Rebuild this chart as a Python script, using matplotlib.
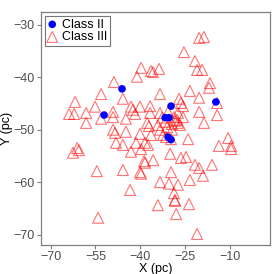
import matplotlib
matplotlib.use("Agg")
import matplotlib.pyplot as plt

plt.rcParams['font.family'] = ['Liberation Sans', 'DejaVu Sans']

# Class III sources (open triangles)
c3_x = [-20.3, -18.7, -25.4, -21.7, -21.0, -19.3, -39.7, -36.4, -35.7, -33.7,
        -41.1, -48.8, -16.7, -17.0, -23.4, -33.4, -53.1, -20.3, -45.8, -27.0,
        -26.4, -25.7, -61.8, -55.1, -43.1, -40.1, -36.7, -36.7, -58.1, -49.1,
        -63.8, -62.1, -49.1, -53.1, -44.8, -42.4, -41.7, -20.3, -14.3, -32.7,
        -28.7, -27.7, -37.7, -37.1, -18.7, -58.1, -49.1, -48.4, -44.8, -31.0,
        -29.4, -27.4, -31.7, -40.1, -36.4, -33.4, -32.4, -31.4, -24.0, -41.4,
        -38.4, -37.4, -45.8, -48.1, -61.1, -60.5, -62.5, -43.1, -30.0, -26.4,
        -24.7, -38.7, -38.4, -35.7, -21.7, -20.3, -16.0, -45.8, -54.5, -40.1,
        -39.7, -29.7, -33.4, -27.4, -23.4, -19.0, -43.4, -28.7, -28.4, -28.4,
        -34.1, -23.7, -28.0, -54.1, -21.0, -13.7, -10.6, -9.6, -9.6, -29.7,
        -39.7, -30.4, -33.4, -30.7, -27.4, -25.7, -26.7, -29.4, -28.4, -34.1,
        -14.3]
c3_y = [-32.5, -32.3, -35.2, -36.9, -38.6, -38.6, -38.2, -38.8, -39.0, -38.4,
        -39.9, -40.9, -41.1, -42.0, -42.6, -43.2, -43.2, -43.9, -44.1, -44.1,
        -44.9, -45.5, -44.7, -45.6, -45.6, -45.6, -45.5, -46.8, -46.8, -46.6,
        -47.0, -47.0, -47.6, -47.9, -47.9, -46.2, -47.0, -46.6, -47.2, -47.7,
        -47.6, -48.1, -48.7, -49.3, -48.7, -48.7, -50.0, -50.6, -50.4, -49.5,
        -48.9, -48.7, -48.5, -50.8, -51.0, -50.0, -51.0, -51.4, -51.8, -52.5,
        -52.5, -52.9, -52.9, -52.5, -53.5, -53.9, -54.4, -54.2, -54.6, -55.4,
        -55.2, -56.0, -56.3, -55.8, -56.7, -57.3, -56.7, -57.7, -57.9, -58.1,
        -58.4, -58.1, -60.0, -60.5, -59.6, -58.8, -61.5, -62.1, -63.4, -63.6,
        -64.4, -64.2, -66.1, -66.8, -69.9, -53.1, -51.6, -53.1, -53.7, -51.8,
        -53.7, -60.3, -46.8, -46.6, -46.8, -47.6, -49.1, -50.0, -48.3, -49.1,
        -44.9]

# Class II sources (filled circles)
c2_x = [-46.1, -52.1, -14.7, -29.7, -31.7, -30.4, -30.7, -29.7]
c2_y = [-42.2, -47.2, -44.7, -45.5, -47.7, -47.7, -51.4, -51.9]

xticks = [-70, -55, -40, -25, -10]
yticks = [-70, -60, -50, -40, -30]

fig = plt.figure(figsize=(2.74, 2.74), dpi=100)
ax = fig.add_axes([0.1496, 0.1058, 0.8358, 0.8492])

ax.scatter(c3_x, c3_y, marker='^', s=62, facecolors='none', edgecolors='red',
           linewidths=0.8, alpha=0.55, label='Class III', zorder=2)
ax.scatter(c2_x, c2_y, marker='o', s=30, color='blue', edgecolors='none',
           label='Class II', zorder=3)

ax.set_xlim(-73.2, 3.4)
ax.set_ylim(-72.0, -27.6)
ax.set_xticks(xticks)
ax.set_yticks(yticks)
ax.set_xticklabels(['\u2212' + str(abs(t)) for t in xticks])
ax.set_yticklabels(['\u2212' + str(abs(t)) for t in yticks])
ax.tick_params(colors='#808080', labelcolor='#4D4D4D', labelsize=9,
               length=3, width=0.8, pad=1.5)
for s in ax.spines.values():
    s.set_color('#808080')
    s.set_linewidth(0.9)

ax.set_xlabel('X (pc)', fontsize=9, labelpad=-0.5)
ax.set_ylabel('Y (pc)', fontsize=9, labelpad=0)

handles, labels = ax.get_legend_handles_labels()
leg = ax.legend(handles[::-1], labels[::-1], loc='upper left', fontsize=9,
                frameon=True, fancybox=False, edgecolor='#555555',
                handlelength=0.8, handletextpad=0.4, borderpad=0.2,
                labelspacing=0.05, borderaxespad=0.3, scatterpoints=1)
leg.get_frame().set_linewidth(0.8)

fig.savefig('out.png', dpi=100)
